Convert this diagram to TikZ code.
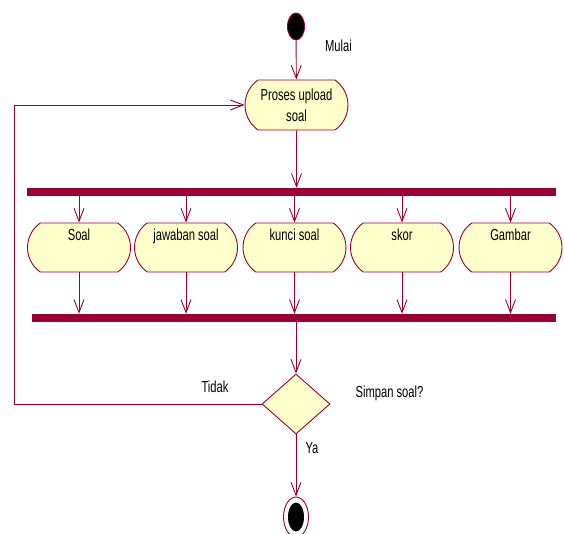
\documentclass[tikz,border=0pt]{standalone}
\usepackage{fontspec}
\setmainfont[FakeStretch=0.7]{Liberation Sans}
\usetikzlibrary{shapes.geometric,shapes.misc,arrows.meta}
\definecolor{rosered}{HTML}{990033}
\definecolor{roseyellow}{HTML}{FFFFCC}

\begin{document}
\begin{tikzpicture}[y=-1pt, x=1pt, font=\fontsize{16}{21}\selectfont,
	flow/.style={draw=rosered, line width=0.9pt, -{Straight Barb[length=13pt,width=10pt]}},
	activity/.style={rounded rectangle, rounded rectangle arc length=110, draw=rosered,
		fill=roseyellow, line width=0.9pt, minimum width=103pt, inner sep=0pt},
	lane/.style={text height=18pt, text depth=31pt},
	bar/.style={rectangle, fill=rosered, inner sep=0pt, minimum height=8pt},
	startnode/.style={ellipse, draw=rosered, fill=black, line width=0.9pt, inner sep=0pt,
		minimum width=17pt, minimum height=27pt},
	endouter/.style={ellipse, draw=rosered, fill=white, line width=0.9pt, inner sep=0pt,
		minimum width=25pt, minimum height=40pt},
	enddot/.style={ellipse, fill=black, inner sep=0pt, minimum width=16pt, minimum height=29pt},
	choice/.style={diamond, draw=rosered, fill=roseyellow, line width=0.9pt, inner sep=0pt,
		minimum width=68pt, minimum height=60pt}]
	\useasboundingbox (0,0) rectangle (564,534);
	%start
	\node[startnode] (start) at (296,26.5) {};
	\node (mulai) at (338.5,46) {Mulai};
	\node[activity, minimum height=50pt, align=center] (proses) at (296.5,105) {Proses upload\\soal};
	\draw[flow] (start) -- (proses);
	%fork and join
	\node[bar, minimum width=529pt] (fork) at (291.5,192) {};
	\node[bar, minimum width=524pt] (join) at (294,318) {};
	\draw[flow] (proses) -- (proses |- fork.north);
	%activities
	\foreach \i/\x/\txt in {
		1/79/Soal,
		2/186/jawaban soal,
		3/294.5/kunci soal,
		4/402/skor,
		5/510.5/Gambar
	}
	{
		\node[activity, lane] (act\i) at (\x,247.5) {\txt};
		\draw[flow] (fork.south -| act\i.north) -- (act\i.north);
		\draw[flow] (act\i.south) -- (act\i.south |- join.north);
	}
	%decision
	\node[choice] (simpan) at (296,404) {};
	\draw[flow] (join.south -| simpan.north) -- (simpan.north);
	\node (tanya) at (389.5,393) {Simpan soal?};
	\node (tidak) at (215,387) {Tidak};
	\node (ya) at (312,448) {Ya};
	\draw[flow] (simpan.west) -- ++(-247,0) |- (proses.west);
	%end
	\node[endouter] (selesai) at (296,517) {};
	\node[enddot] (selesaidot) at (selesai) {};
	\draw[flow] (simpan) -- (selesai);
\end{tikzpicture}
\end{document}
